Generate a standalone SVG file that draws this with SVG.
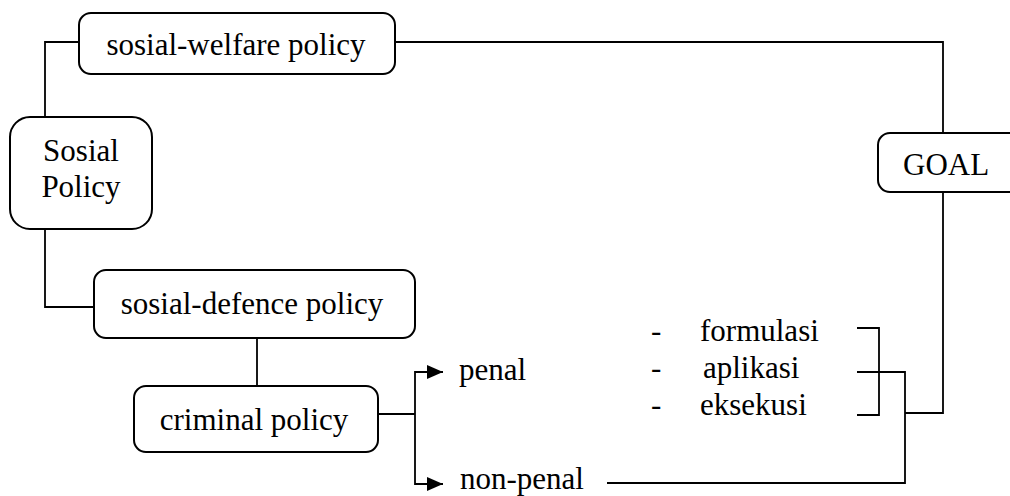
<svg xmlns="http://www.w3.org/2000/svg" width="1010" height="496" viewBox="0 0 1010 496">
<style>
.box{fill:#fff;stroke:#000;stroke-width:2}
.ln{fill:none;stroke:#000;stroke-width:1.8}
text{font-family:"Liberation Serif","Times New Roman",serif;font-size:31px;fill:#000}
.c{text-anchor:middle}
</style>
<defs>
<marker id="arr" markerUnits="userSpaceOnUse" markerWidth="18" markerHeight="16" refX="16" refY="8" orient="auto">
<path d="M0,1 L16,8 L0,15 Z" fill="#000"/>
</marker>
</defs>
<g id="connectors">
<path class="ln" d="M79,42 H45 V117"/>
<path class="ln" d="M45,229 V307 H94"/>
<path class="ln" d="M257,338 V386"/>
<path class="ln" d="M395,42 H943 V133"/>
<path class="ln" d="M378,414 H415"/>
<path class="ln" d="M415,414 V372 H443" marker-end="url(#arr)"/>
<path class="ln" d="M415,414 V484 H443" marker-end="url(#arr)"/>
<path class="ln" d="M857,328 H879 V415 H857"/>
<path class="ln" d="M857,372 H905 V483 H607"/>
<path class="ln" d="M905,413 H943 V192"/>
</g>
<g id="welfare">
<rect class="box" x="79" y="13" width="316" height="61" rx="12"/>
<text class="c" x="236" y="55">sosial-welfare policy</text>
</g>
<g id="social-policy">
<rect class="box" x="10" y="117" width="142" height="112" rx="20"/>
<text class="c" x="81" y="161">Sosial</text>
<text class="c" x="81" y="197">Policy</text>
</g>
<g id="defence">
<rect class="box" x="94" y="270" width="321" height="68" rx="12"/>
<text class="c" x="252" y="314">sosial-defence policy</text>
</g>
<g id="criminal">
<rect class="box" x="134" y="386" width="244" height="66" rx="12"/>
<text class="c" x="254" y="430">criminal policy</text>
</g>
<g id="goal">
<rect class="box" x="878" y="133" width="150" height="59" rx="12"/>
<text x="903" y="175">GOAL</text>
</g>
<g id="penal">
<text x="459" y="380">penal</text>
</g>
<g id="non-penal">
<text x="460" y="489">non-penal</text>
</g>
<g id="stages">
<text x="651" y="341">-</text>
<text x="700" y="341">formulasi</text>
<text x="651" y="378">-</text>
<text x="703" y="378">aplikasi</text>
<text x="651" y="415">-</text>
<text x="700" y="415">eksekusi</text>
</g>
</svg>
